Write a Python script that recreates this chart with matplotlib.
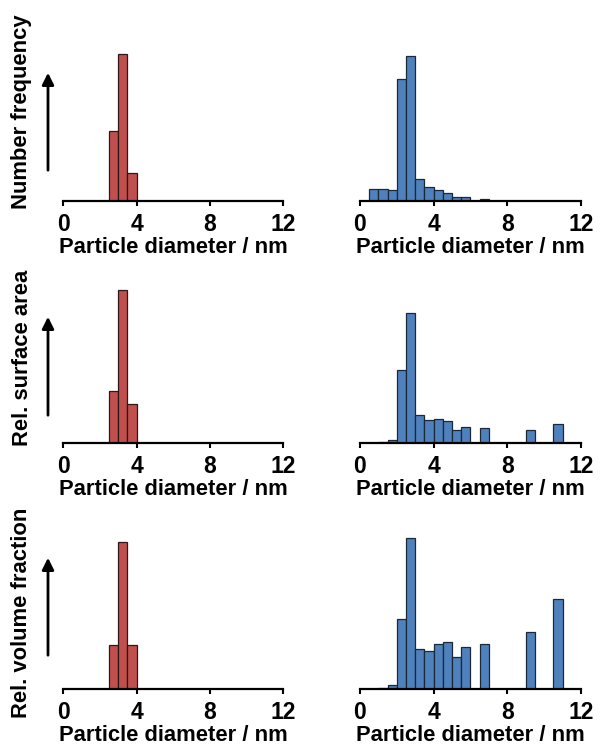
import numpy as np
import matplotlib
matplotlib.use("Agg")
import matplotlib.pyplot as plt

plt.rcParams['font.family'] = ['Liberation Sans', 'DejaVu Sans']
plt.rcParams['font.weight'] = 'bold'

# bin left edges (nm), bin width 0.5 nm
red_edges = [2.5, 3.0, 3.5]
blue_edges = [0.5, 1.0, 1.5, 2.0, 2.5, 3.0, 3.5, 4.0, 4.5, 5.0, 5.5,
              6.0, 6.5, 7.0, 7.5, 8.0, 8.5, 9.0, 9.5, 10.0, 10.5]

# relative heights
red_number = [70, 146.7, 28]
red_surface = [52.3, 153.3, 39]
red_volume = [43.7, 147.3, 43.7]

blue_number = [12, 12, 10.7, 122, 144.7, 22.3, 14, 11.3, 8.3, 3.7, 3.7,
               0, 2.3, 0, 0, 0, 0, 0.5, 0, 0, 0.5]
blue_surface = [0, 1.7, 3.7, 73.3, 130.7, 28.3, 23.3, 24.3, 22.3, 13.7, 16.7,
                0, 15, 0, 0, 0, 0, 13.7, 0, 0, 19.3]
blue_volume = [0, 0.6, 3.7, 70, 151.3, 40, 38.3, 45, 46.7, 31.7, 41.7,
               0, 45, 0, 0, 0, 0, 57.3, 0, 0, 89.7]

ylabels = ['Number frequency', 'Rel. surface area', 'Rel. volume fraction']
xticks = [0, 4, 8, 12]

W, H = 602, 749
fig = plt.figure(figsize=(W / 100, H / 100), dpi=100)

baselines = [201, 443.3, 689]
label_y = [112, 358, 613]
arrows = [(173, 70), (418, 314), (658, 555)]
cols = [(63.3, 220), (360, 221)]
ax_h = 165

rows = [(red_number, blue_number), (red_surface, blue_surface), (red_volume, blue_volume)]

for r, (red_vals, blue_vals) in enumerate(rows):
    for c, (x0, w) in enumerate(cols):
        ax = fig.add_axes([x0 / W, (H - baselines[r]) / H, w / W, ax_h / H])
        if c == 0:
            ax.bar(red_edges, red_vals, width=0.5, align='edge',
                   color='#C0504D', edgecolor='#2e1818', linewidth=0.9)
        else:
            ax.bar(blue_edges, blue_vals, width=0.5, align='edge',
                   color='#4F81BD', edgecolor='#1a2838', linewidth=0.9)
        ax.set_xlim(0, 12)
        ax.set_ylim(0, ax_h)
        for s in ['top', 'right', 'left']:
            ax.spines[s].set_visible(False)
        ax.spines['bottom'].set_linewidth(1.6)
        ax.set_yticks([])
        ax.set_xticks(xticks)
        ax.tick_params(axis='x', direction='out', length=3.5, width=1.5,
                       pad=5, labelsize=16.5)
        ax.set_xlabel('Particle diameter / nm', fontsize=15.8, fontweight='bold',
                      labelpad=1)
        ax.patch.set_alpha(0)

    fig.text(22 / W, (H - label_y[r]) / H, ylabels[r], rotation=90,
             ha='center', va='center', fontsize=15.8, fontweight='bold')
    y0, y1 = arrows[r]
    fig.add_artist(matplotlib.patches.FancyArrowPatch(
        (48, H - y0), (48, H - y1), transform=None,
        arrowstyle='-|>,head_length=7,head_width=3.5', lw=2, color='black'))

fig.savefig('out.png', dpi=100)
